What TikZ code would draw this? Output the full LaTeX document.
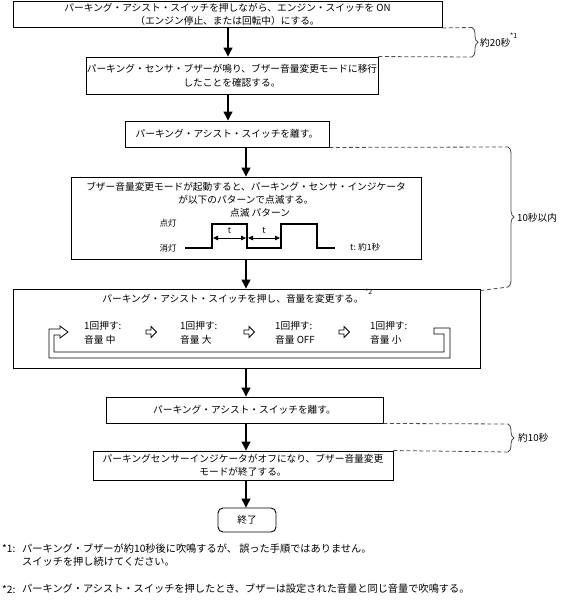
\documentclass[tikz,border=0pt]{standalone}
\usepackage{fontspec}
\setmainfont{Noto Sans CJK JP}
\usetikzlibrary{arrows.meta,decorations.pathreplacing}
\begin{document}
\begin{tikzpicture}[x=1pt,y=-1pt,
  box/.style={draw=black, line width=0.9pt, inner sep=0pt, align=center, font=\fontsize{9.7}{13.5}\selectfont},
  txt/.style={inner sep=0pt, align=center, font=\fontsize{9.7}{13.5}\selectfont},
  lbl/.style={inner sep=0pt, font=\fontsize{8.5}{10}\selectfont},
  sup/.style={inner sep=0pt, font=\fontsize{7}{8}\selectfont},
  note/.style={inner sep=0pt, anchor=west, font=\fontsize{10.2}{13}\selectfont},
  arr/.style={line width=1.2pt, -{Triangle[length=9pt,width=9pt]}},
  dashline/.style={draw=black!70, line width=0.8pt, dash pattern=on 4pt off 2.5pt},
  bracestyle/.style={draw=black!70, line width=0.8pt, decorate, decoration={brace, amplitude=6pt}},
  pulse/.style={line width=1.8pt},
  tarr/.style={line width=0.8pt, {Triangle[length=5pt,width=4.5pt]}-{Triangle[length=5pt,width=4.5pt]}},
  hollow/.style={draw=black, line width=0.8pt, fill=white},
]
\useasboundingbox (0,0) rectangle (564,601);

% boxes
\node[box, minimum width=429pt, minimum height=26pt] (b1) at (227.5,14.5)
  {パーキング・アシスト・スイッチを押しながら、エンジン・スイッチを ON\\（エンジン停止、または回転中）にする。};
\node[box, minimum width=292pt, minimum height=37pt] (b2) at (232,75.5)
  {パーキング・センサ・ブザーが鳴り、ブザー音量変更モードに移行\\したことを確認する。};
\node[box, minimum width=204pt, minimum height=26pt] (b3) at (227,134)
  {パーキング・アシスト・スイッチを離す。};
\node[box, minimum width=350pt, minimum height=82pt] (b4) at (246,218) {};
\node[box, minimum width=467pt, minimum height=79pt] (b5) at (246.5,328.5) {};
\node[box, minimum width=277pt, minimum height=26pt] (b6) at (244.5,410)
  {パーキング・アシスト・スイッチを離す。};
\node[box, minimum width=300pt, minimum height=29pt] (b7) at (243,465.5)
  {パーキングセンサーインジケータがオフになり、ブザー音量変更\\モードが終了する。};
\node[box, rounded corners=5pt, minimum width=58pt, minimum height=24pt] (bend) at (247,520) {終了};

% flow arrows
\coordinate (ax1) at (228,0);
\coordinate (ax2) at (246,0);
\draw[arr] (ax1 |- b1.south) -- (ax1 |- b2.north);
\draw[arr] (ax1 |- b2.south) -- (ax1 |- b3.north);
\draw[arr] (ax2 |- b3.south) -- (ax2 |- b4.north);
\draw[arr] (ax2 |- b4.south) -- (ax2 |- b5.north);
\draw[arr] (ax2 |- b5.south) -- (ax2 |- b6.north);
\draw[arr] (ax2 |- b6.south) -- (ax2 |- b7.north);
\draw[arr] (ax2 |- b7.south) -- (ax2 |- bend.north);

% box 4 content
\node[txt] (t4a) at (246,187) {ブザー音量変更モードが起動すると、パーキング・センサ・インジケータ};
\node[txt] (t4b) at (246,200) {が以下のパターンで点滅する。};
\node[txt] (t4c) at (260,213) {点滅 パターン};
\node[lbl] (on) at (168,223) {点灯};
\node[lbl] (off) at (168,248) {消灯};
\node[lbl, anchor=west] (tsec) at (350,247) {t: 約1秒};
\coordinate (p0) at (185,248);
\coordinate (p1) at (212,248);
\coordinate (p2) at (212,224);
\coordinate (p3) at (247,224);
\coordinate (p4) at (247,248);
\coordinate (p5) at (281,248);
\coordinate (p6) at (281,224);
\coordinate (p7) at (317,224);
\coordinate (p8) at (317,248);
\coordinate (p9) at (335,248);
\draw[pulse] (p0) -- (p1) -- (p2) -- (p3) -- (p4) -- (p5) -- (p6) -- (p7) -- (p8) -- (p9);
\coordinate (ta) at (213,238);
\coordinate (tb) at (246,238);
\coordinate (tc) at (248,238);
\coordinate (td) at (280,238);
\draw[tarr] (ta) -- (tb);
\draw[tarr] (tc) -- (td);
\node[lbl] (t1) at (229.5,230.5) {t};
\node[lbl] (t2) at (264,230.5) {t};

% box 5 content
\node[txt] (t5) at (233,299) {パーキング・アシスト・スイッチを押し、音量を変更する。};
\node[sup, anchor=south west] (s2) at ([xshift=1pt]t5.north east) {*2};
\node[txt, anchor=west] (i1a) at (84,326) {1回押す:};
\node[txt, anchor=west] (i1b) at (84,340) {音量 中};
\node[txt, anchor=west] (i2a) at (180,326) {1回押す:};
\node[txt, anchor=west] (i2b) at (180,340) {音量 大};
\node[txt, anchor=west] (i3a) at (275,326) {1回押す:};
\node[txt, anchor=west] (i3b) at (275,340) {音量 OFF};
\node[txt, anchor=west] (i4a) at (370,326) {1回押す:};
\node[txt, anchor=west] (i4b) at (370,340) {音量 小};
% hollow arrows between items
\foreach \cx in {151,249,344}{
  \draw[hollow] (\cx-5,330) -- (\cx,330) -- (\cx,326.5) -- (\cx+5.5,332) -- (\cx,337.5) -- (\cx,334) -- (\cx-5,334) -- cycle;
}
% cycle loop
\draw[hollow] (434,328) -- (450,328) -- (450,358) -- (49,358) -- (49,329) -- (60,329) -- (60,326) -- (68,332) -- (60,338) -- (60,335) -- (54,335) -- (54,352) -- (444,352) -- (444,334) -- (434,334) -- cycle;

% braces and dashed lines
\coordinate (r1t) at (472,27.5);
\coordinate (r1b) at (472,57);
\draw[dashline] (b1.south east) -- (r1t);
\draw[dashline] (b2.north east) -- (r1b);
\draw[bracestyle] (r1t) -- (r1b);
\node[txt, anchor=west] (l1) at (480,43) {約20秒};
\node[sup, anchor=west] (l1s) at (510,36) {*1};

\coordinate (r2t) at (508,147);
\coordinate (r2b) at (508,287);
\draw[dashline] (b3.south east) -- (r2t);
\draw[dashline] ([yshift=-2pt]b5.north east) -- (r2b);
\draw[bracestyle] (r2t) -- (r2b);
\node[txt, anchor=west] (l2) at (517,217.5) {10秒以内};

\coordinate (r3t) at (508,424);
\coordinate (r3b) at (508,452);
\draw[dashline] (b6.south east) -- (r3t);
\draw[dashline] (b7.north east) -- (r3b);
\draw[bracestyle] (r3t) -- (r3b);
\node[txt, anchor=west] (l3) at (518,438) {約10秒};

% footnotes
\node[note] (n1a) at (2,549) {*1:};
\node[note] (n1b) at (22,549) {パーキング・ブザーが約10秒後に吹鳴するが、 誤った手順ではありません。};
\node[note] (n1c) at (22,562) {スイッチを押し続けてください。};
\node[note] (n2a) at (2,589) {*2:};
\node[note] (n2b) at (22,589) {パーキング・アシスト・スイッチを押したとき、ブザーは設定された音量と同じ音量で吹鳴する。};
\end{tikzpicture}
\end{document}
